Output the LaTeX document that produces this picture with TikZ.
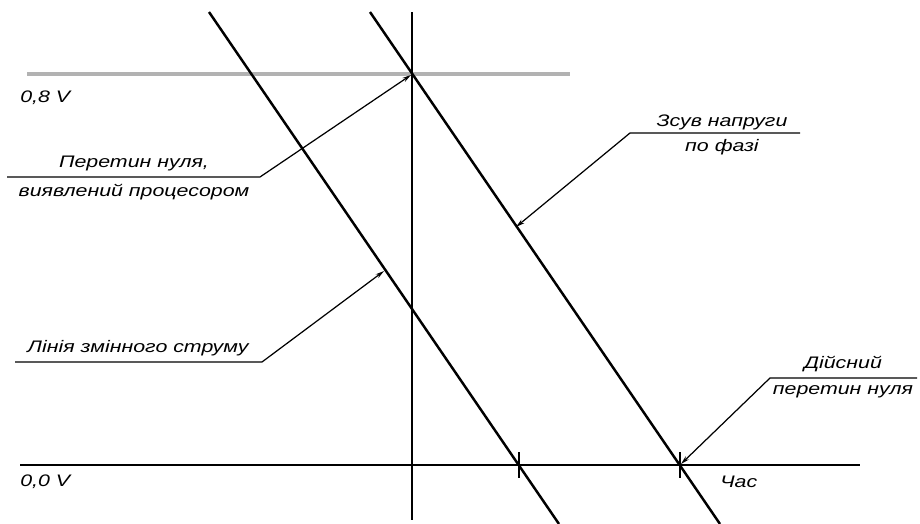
\documentclass[tikz,border=0pt]{standalone}
\usepackage{fontspec}
\setmainfont{Liberation Sans}[FakeStretch=1.28]
\usetikzlibrary{arrows.meta}
\begin{document}
\begin{tikzpicture}[x=0.02cm,y=-0.02cm,
    wave/.style={line width=1.4pt},
    axis/.style={line width=0.8pt},
    leader/.style={line width=0.7pt,-{Stealth[length=5pt,width=2.6pt]}},
    lbl/.style={font=\fontsize{9.5}{12}\selectfont\itshape,inner sep=0pt}]
    \useasboundingbox (0,0) rectangle (920,524);

    % points of the axes and the two waves
    \coordinate (vtop) at (412,12);
    \coordinate (vbot) at (412,520);
    \coordinate (tleft) at (20,465);
    \coordinate (tright) at (860,465);
    \coordinate (gleft) at (27,74);
    \coordinate (gright) at (570,74);
    \coordinate (actop) at (209,12);
    \coordinate (acbot) at (559,524);
    \coordinate (shtop) at (370,12);
    \coordinate (shbot) at (720,524);
    \coordinate (zacross) at (519,465);
    \coordinate (zshift) at (680,465);
    \coordinate (detect) at (411,75);
    \coordinate (acpoint) at (384,271);
    \coordinate (shpoint) at (516,227);
    \coordinate (realzero) at (681,464);

    \draw[gray!60, line width=1.8pt] (gleft) -- (gright);
    \draw[axis] (tleft) -- (tright);
    \draw[axis] (vtop) -- (vbot);
    \draw[wave] (actop) -- (acbot);
    \draw[wave] (shtop) -- (shbot);
    \draw[axis] (zacross) ++(0,-13) -- ++(0,26);
    \draw[axis] (zshift) ++(0,-13) -- ++(0,26);

    \node[lbl, anchor=west] (volthigh) at (20,98) {0,8 V};
    \node[lbl, anchor=west] (voltzero) at (20,482) {0,0 V};
    \node[lbl, anchor=west] (time) at (720,482) {Час};

    % labels with underline and leader
    \node[lbl] (detecta) at (134,163) {Перетин нуля,};
    \node[lbl] (detectb) at (134,192) {виявлений процесором};
    \coordinate (ulone) at (7,177);
    \coordinate (ulonee) at (260,177);
    \draw[leader] (ulone) -- (ulonee) -- (detect);

    \node[lbl] (acline) at (138,348) {Лінія змінного струму};
    \coordinate (ultwo) at (15,362);
    \coordinate (ultwoe) at (262,362);
    \draw[leader] (ultwo) -- (ultwoe) -- (acpoint);

    \node[lbl] (shifta) at (722,122) {Зсув напруги};
    \node[lbl] (shiftb) at (722,147) {по фазі};
    \coordinate (ulthree) at (800,133);
    \coordinate (ulthreee) at (630,133);
    \draw[leader] (ulthree) -- (ulthreee) -- (shpoint);

    \node[lbl] (reala) at (843,364) {Дійсний};
    \node[lbl] (realb) at (843,392) {перетин нуля};
    \coordinate (ulfour) at (917,378);
    \coordinate (ulfoure) at (770,378);
    \draw[leader] (ulfour) -- (ulfoure) -- (realzero);
\end{tikzpicture}
\end{document}
